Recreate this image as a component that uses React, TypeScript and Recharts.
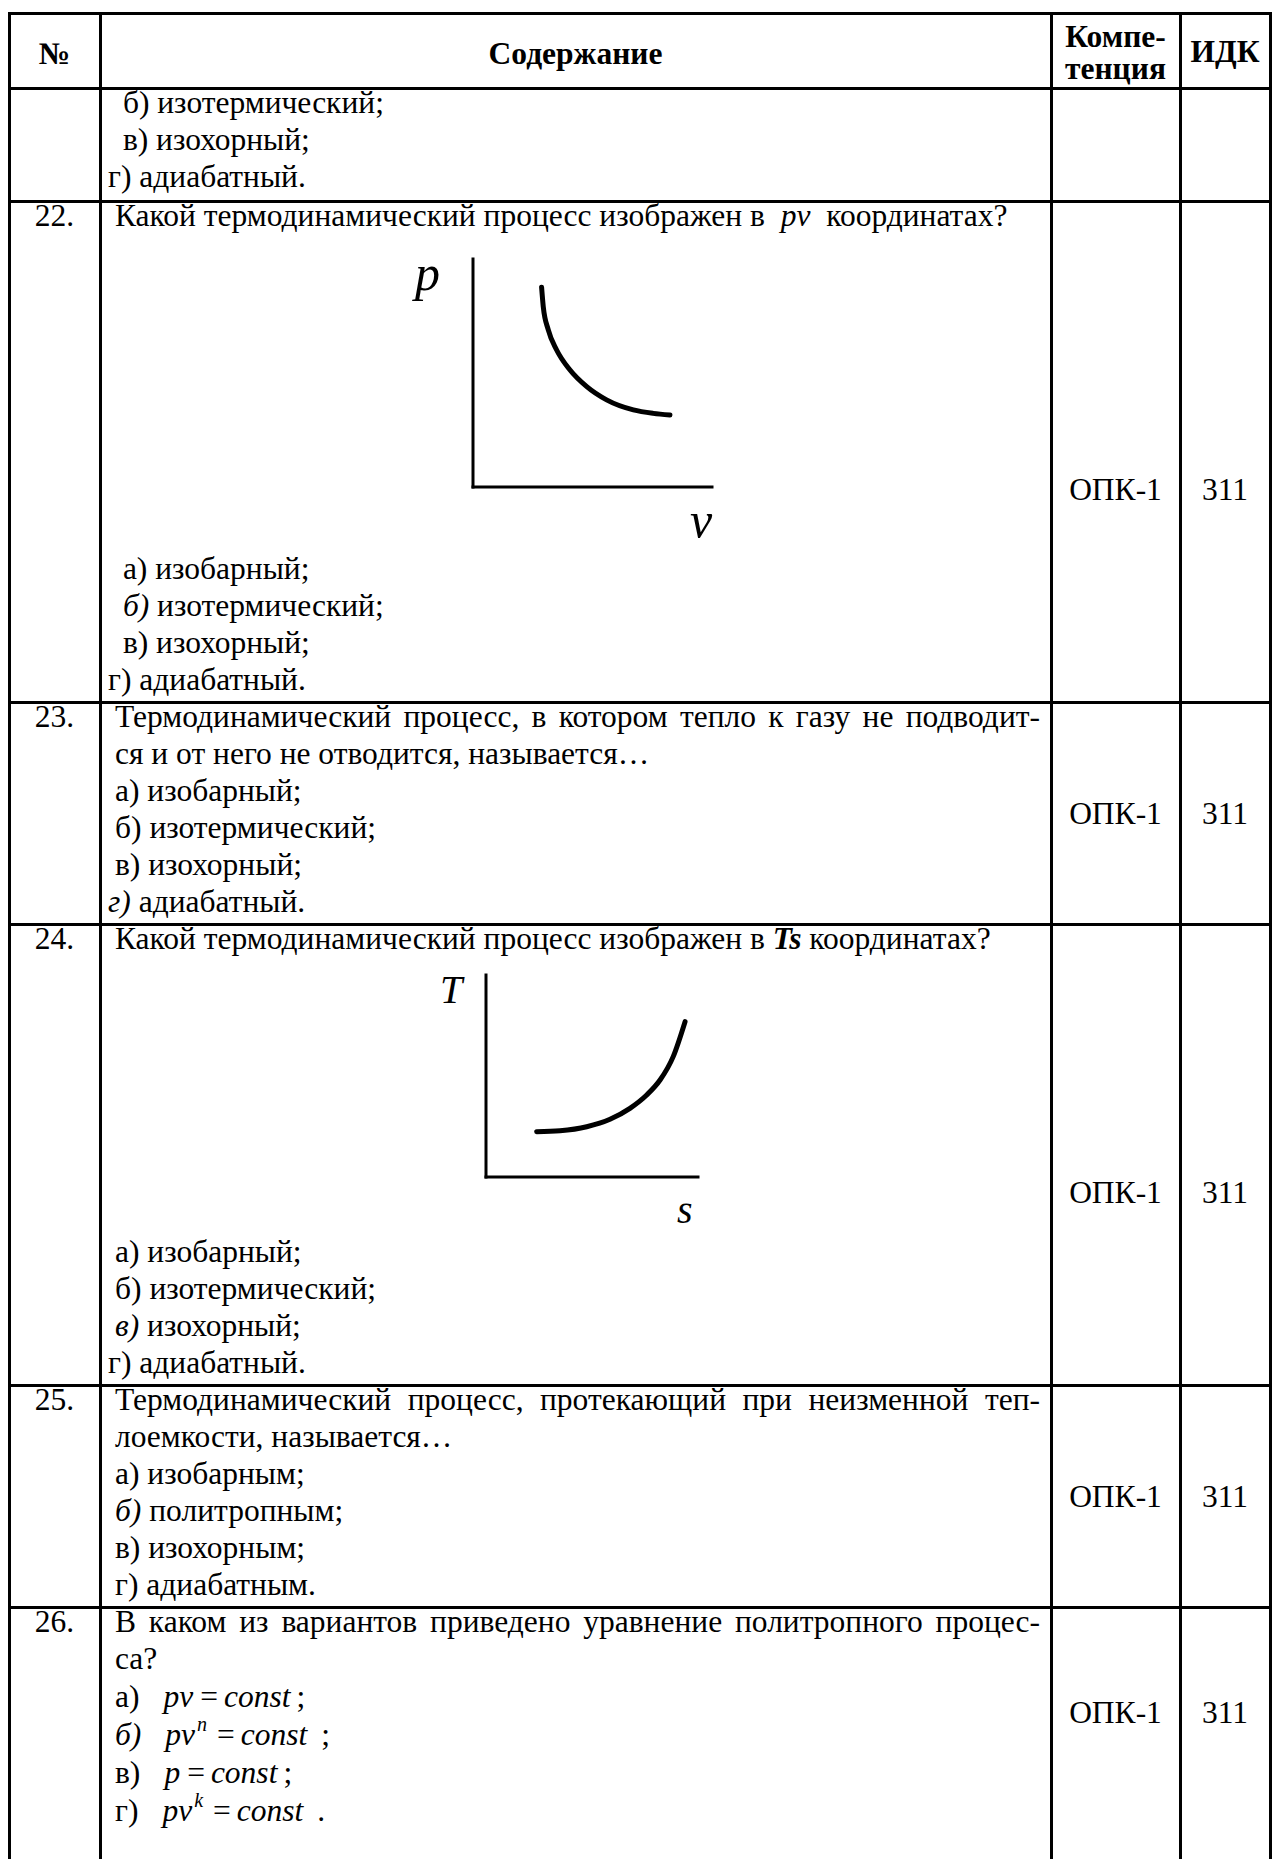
import React from 'react';
import { LineChart, Line, XAxis, YAxis, Label } from 'recharts';

const FONT = '"Liberation Serif", "Times New Roman", Times, serif';

// ---- chart data (relative units) ----
const pvVolume = [2.87, 2.94, 3.15, 3.5, 4.06, 4.76, 5.59, 6.71, 7.54, 8.24];
const pvPressure = [8.76, 7.91, 6.89, 6.01, 5.13, 4.4, 3.82, 3.38, 3.23, 3.16];
const pvAxisNames = ['v', 'p'];

const tsEntropy = [2.39, 3.49, 4.75, 5.85, 6.79, 7.58, 8.21, 8.83, 9.39];
const tsTemperature = [2.24, 2.29, 2.49, 2.86, 3.4, 4.06, 4.8, 5.96, 7.69];
const tsAxisNames = ['s', 'T'];

const axisDomain = [0, 10];

// ---- table text ----
const headers = ['№', 'Содержание', 'Компе-', 'тенция', 'ИДК'];
const rowNumbers = ['22.', '23.', '24.', '25.', '26.'];
const competence = 'ОПК-1';
const indicator = '311';

const pvData = pvVolume.map((v, i) => ({ x: v, y: pvPressure[i] }));
const tsData = tsEntropy.map((s, i) => ({ x: s, y: tsTemperature[i] }));

const COLS = [9, 100, 1051, 1180, 1270];
const ROWS = [13, 88, 201, 702, 924, 1385, 1607, 1859];
const LH = 37;
const TX = 115;
const TXG = 108;

type DiagramProps = {
  data: { x: number; y: number }[];
  names: string[];
  width: number;
  height: number;
  margin: { top: number; right: number; bottom: number; left: number };
  labelSize: number;
  xLab: { dx: number; dy: number };
  yLab: { dx: number; dy: number };
};

function Diagram({ data, names, width, height, margin, labelSize, xLab, yLab }: DiagramProps) {
  const axisLine = { stroke: '#000', strokeWidth: 3, strokeLinecap: 'square' as const };
  return (
    <LineChart width={width} height={height} data={data} margin={margin}>
      <XAxis
        type="number"
        dataKey="x"
        domain={axisDomain}
        allowDataOverflow
        tick={false}
        tickLine={false}
        height={1}
        axisLine={axisLine}
      >
        <Label
          content={(p: any) => {
            const vb = p.viewBox || { x: 0, y: 0, width: 0, height: 0 };
            return (
              <text
                x={vb.x + vb.width + xLab.dx}
                y={vb.y + xLab.dy}
                fontFamily={FONT}
                fontStyle="italic"
                fontSize={labelSize}
                fill="#000"
              >
                {names[0]}
              </text>
            );
          }}
        />
      </XAxis>
      <YAxis
        type="number"
        domain={axisDomain}
        allowDataOverflow
        tick={false}
        tickLine={false}
        width={1}
        axisLine={axisLine}
      >
        <Label
          content={(p: any) => {
            const vb = p.viewBox || { x: 0, y: 0, width: 0, height: 0 };
            return (
              <text
                x={vb.x + vb.width + yLab.dx}
                y={vb.y + yLab.dy}
                fontFamily={FONT}
                fontStyle="italic"
                fontSize={labelSize}
                fill="#000"
              >
                {names[1]}
              </text>
            );
          }}
        />
      </YAxis>
      <Line
        type="monotone"
        dataKey="y"
        stroke="#000"
        strokeWidth={5}
        strokeLinecap="round"
        dot={false}
        activeDot={false}
        isAnimationActive={false}
      />
    </LineChart>
  );
}

function Ln({
  top,
  left = TX,
  justify = false,
  children,
}: {
  top: number;
  left?: number;
  justify?: boolean;
  children: React.ReactNode;
}) {
  return (
    <div
      style={{
        position: 'absolute',
        top,
        left,
        width: justify ? 1040 - left : undefined,
        height: LH,
        lineHeight: LH + 'px',
        whiteSpace: justify ? 'normal' : 'pre',
        textAlign: justify ? 'justify' : 'left',
        textAlignLast: justify ? 'justify' : undefined,
      }}
    >
      {children}
    </div>
  );
}

function Num({ top, children }: { top: number; children: React.ReactNode }) {
  return (
    <div
      style={{
        position: 'absolute',
        top,
        left: COLS[0],
        width: COLS[1] - COLS[0],
        textAlign: 'center',
        lineHeight: LH + 'px',
        height: LH,
      }}
    >
      {children}
    </div>
  );
}

function MidCell({ c, center, children }: { c: number; center: number; children: React.ReactNode }) {
  return (
    <div
      style={{
        position: 'absolute',
        left: COLS[c],
        width: COLS[c + 1] - COLS[c],
        top: center - LH / 2,
        height: LH,
        lineHeight: LH + 'px',
        textAlign: 'center',
      }}
    >
      {children}
    </div>
  );
}

const I = ({ children }: { children: React.ReactNode }) => <i>{children}</i>;

function Formula({ pre, preItalic, base, sup, end }: { pre: string; preItalic?: boolean; base: string; sup?: string; end: string }) {
  return (
    <span>
      {preItalic ? <i>{pre}</i> : pre}
      <span style={{ marginLeft: 24 }} />
      <i>{base}</i>
      {sup ? (
        <span style={{ fontSize: 20, fontStyle: 'italic', position: 'relative', top: -14, marginLeft: 2 }}>{sup}</span>
      ) : null}
      <span style={{ marginLeft: sup ? 10 : 7, marginRight: 6 }}>=</span>
      <i>const</i>
      <span style={{ marginLeft: sup ? 14 : 6 }}>{end}</span>
    </span>
  );
}

export default function App() {
  const vLines = COLS.map((x, i) => (
    <div key={'v' + i} style={{ position: 'absolute', left: x - 1.5, top: ROWS[0] - 1.5, width: 3, height: 1859 - ROWS[0] + 2, background: '#000' }} />
  ));
  const hLines = ROWS.slice(0, 7).map((y, i) => (
    <div key={'h' + i} style={{ position: 'absolute', left: COLS[0] - 1.5, top: y - 1.5, width: COLS[4] - COLS[0] + 3, height: 3, background: '#000' }} />
  ));
  const off = -4;
  const r21 = ROWS[1] + off;
  const r22 = ROWS[2] + off;
  const r22a = ROWS[3] - 4 * LH + off;
  const r23 = ROWS[3] + off;
  const r24 = ROWS[4] + off;
  const r24a = ROWS[5] - 4 * LH + off;
  const r25 = ROWS[5] + off;
  const r26 = ROWS[6] + off;

  // vertical centres of the "competence / indicator" texts per row
  const mid = (r: number) => (ROWS[r] + ROWS[r + 1]) / 2;
  const cellCenters = [mid(2) + 38, mid(3), mid(4) + 38, mid(5), 1712];

  return (
    <div
      style={{
        position: 'absolute',
        left: 0,
        top: 0,
        width: 1272,
        height: 1859,
        overflow: 'hidden',
        background: '#fff',
        color: '#000',
        fontFamily: FONT,
        fontSize: 31.5,
      }}
    >
      {/* header */}
      <div style={{ position: 'absolute', top: ROWS[0], height: ROWS[1] - ROWS[0], left: 0, width: 1272, fontWeight: 'bold' }}>
        <div style={{ position: 'absolute', left: COLS[0], width: COLS[1] - COLS[0], top: 0, height: '100%', display: 'flex', alignItems: 'center', justifyContent: 'center', paddingTop: 6, boxSizing: 'border-box' }}>{headers[0]}</div>
        <div style={{ position: 'absolute', left: COLS[1], width: COLS[2] - COLS[1], top: 0, height: '100%', display: 'flex', alignItems: 'center', justifyContent: 'center', paddingTop: 6, boxSizing: 'border-box' }}>{headers[1]}</div>
        <div style={{ position: 'absolute', left: COLS[2], width: COLS[3] - COLS[2], top: 0, height: '100%', display: 'flex', flexDirection: 'column', alignItems: 'center', justifyContent: 'center', lineHeight: '32px', paddingTop: 4, boxSizing: 'border-box' }}>
          <div>{headers[2]}</div>
          <div>{headers[3]}</div>
        </div>
        <div style={{ position: 'absolute', left: COLS[3], width: COLS[4] - COLS[3], top: 0, height: '100%', display: 'flex', alignItems: 'center', justifyContent: 'center', paddingTop: 2, boxSizing: 'border-box' }}>{headers[4]}</div>
      </div>

      {/* continuation of 21 */}
      <Ln top={r21}> б) изотермический;</Ln>
      <Ln top={r21 + LH}> в) изохорный;</Ln>
      <Ln top={r21 + 2 * LH} left={TXG}>г) адиабатный.</Ln>

      {/* 22 */}
      <Num top={r22}>{rowNumbers[0]}</Num>
      <Ln top={r22}>Какой термодинамический процесс изображен в  <I>pv</I>  координатах?</Ln>
      <div style={{ position: 'absolute', left: 400, top: 230 }}>
        <Diagram
          data={pvData}
          names={pvAxisNames}
          width={340}
          height={330}
          margin={{ top: 29, right: 28, bottom: 72, left: 72 }}
          labelSize={50}
          xLab={{ dx: -22, dy: 50 }}
          yLab={{ dx: -58, dy: 31 }}
        />
      </div>
      <Ln top={r22a}> а) изобарный;</Ln>
      <Ln top={r22a + LH}> <I>б)</I> изотермический;</Ln>
      <Ln top={r22a + 2 * LH}> в) изохорный;</Ln>
      <Ln top={r22a + 3 * LH} left={TXG}>г) адиабатный.</Ln>

      {/* 23 */}
      <Num top={r23}>{rowNumbers[1]}</Num>
      <Ln top={r23} justify>Термодинамический процесс, в котором тепло к газу не подводит-</Ln>
      <Ln top={r23 + LH}>ся и от него не отводится, называется…</Ln>
      <Ln top={r23 + 2 * LH}>а) изобарный;</Ln>
      <Ln top={r23 + 3 * LH}>б) изотермический;</Ln>
      <Ln top={r23 + 4 * LH}>в) изохорный;</Ln>
      <Ln top={r23 + 5 * LH} left={TXG}><I>г)</I> адиабатный.</Ln>

      {/* 24 */}
      <Num top={r24}>{rowNumbers[2]}</Num>
      <Ln top={r24}>Какой термодинамический процесс изображен в <b><i>Ts</i></b> координатах?</Ln>
      <div style={{ position: 'absolute', left: 420, top: 950 }}>
        <Diagram
          data={tsData}
          names={tsAxisNames}
          width={300}
          height={290}
          margin={{ top: 25, right: 22, bottom: 62, left: 65 }}
          labelSize={40}
          xLab={{ dx: -21, dy: 46 }}
          yLab={{ dx: -46, dy: 28 }}
        />
      </div>
      <Ln top={r24a}>а) изобарный;</Ln>
      <Ln top={r24a + LH}>б) изотермический;</Ln>
      <Ln top={r24a + 2 * LH}><I>в)</I> изохорный;</Ln>
      <Ln top={r24a + 3 * LH} left={TXG}>г) адиабатный.</Ln>

      {/* 25 */}
      <Num top={r25}>{rowNumbers[3]}</Num>
      <Ln top={r25} justify>Термодинамический процесс, протекающий при неизменной теп-</Ln>
      <Ln top={r25 + LH}>лоемкости, называется…</Ln>
      <Ln top={r25 + 2 * LH}>а) изобарным;</Ln>
      <Ln top={r25 + 3 * LH}><I>б)</I> политропным;</Ln>
      <Ln top={r25 + 4 * LH}>в) изохорным;</Ln>
      <Ln top={r25 + 5 * LH}>г) адиабатным.</Ln>

      {/* 26 */}
      <Num top={r26}>{rowNumbers[4]}</Num>
      <Ln top={r26} justify>В каком из вариантов приведено уравнение политропного процес-</Ln>
      <Ln top={r26 + LH}>са?</Ln>
      <Ln top={r26 + 75}><Formula pre="а)" base="pv" end=";" /></Ln>
      <Ln top={r26 + 113}><Formula pre="б)" preItalic base="pv" sup="n" end=";" /></Ln>
      <Ln top={r26 + 151}><Formula pre="в)" base="p" end=";" /></Ln>
      <Ln top={r26 + 189}><Formula pre="г)" base="pv" sup="k" end="." /></Ln>

      {cellCenters.map((cy, i) => (
        <React.Fragment key={'c' + i}>
          <MidCell c={2} center={cy}>{competence}</MidCell>
          <MidCell c={3} center={cy}>{indicator}</MidCell>
        </React.Fragment>
      ))}

      {vLines}
      {hLines}
    </div>
  );
}
